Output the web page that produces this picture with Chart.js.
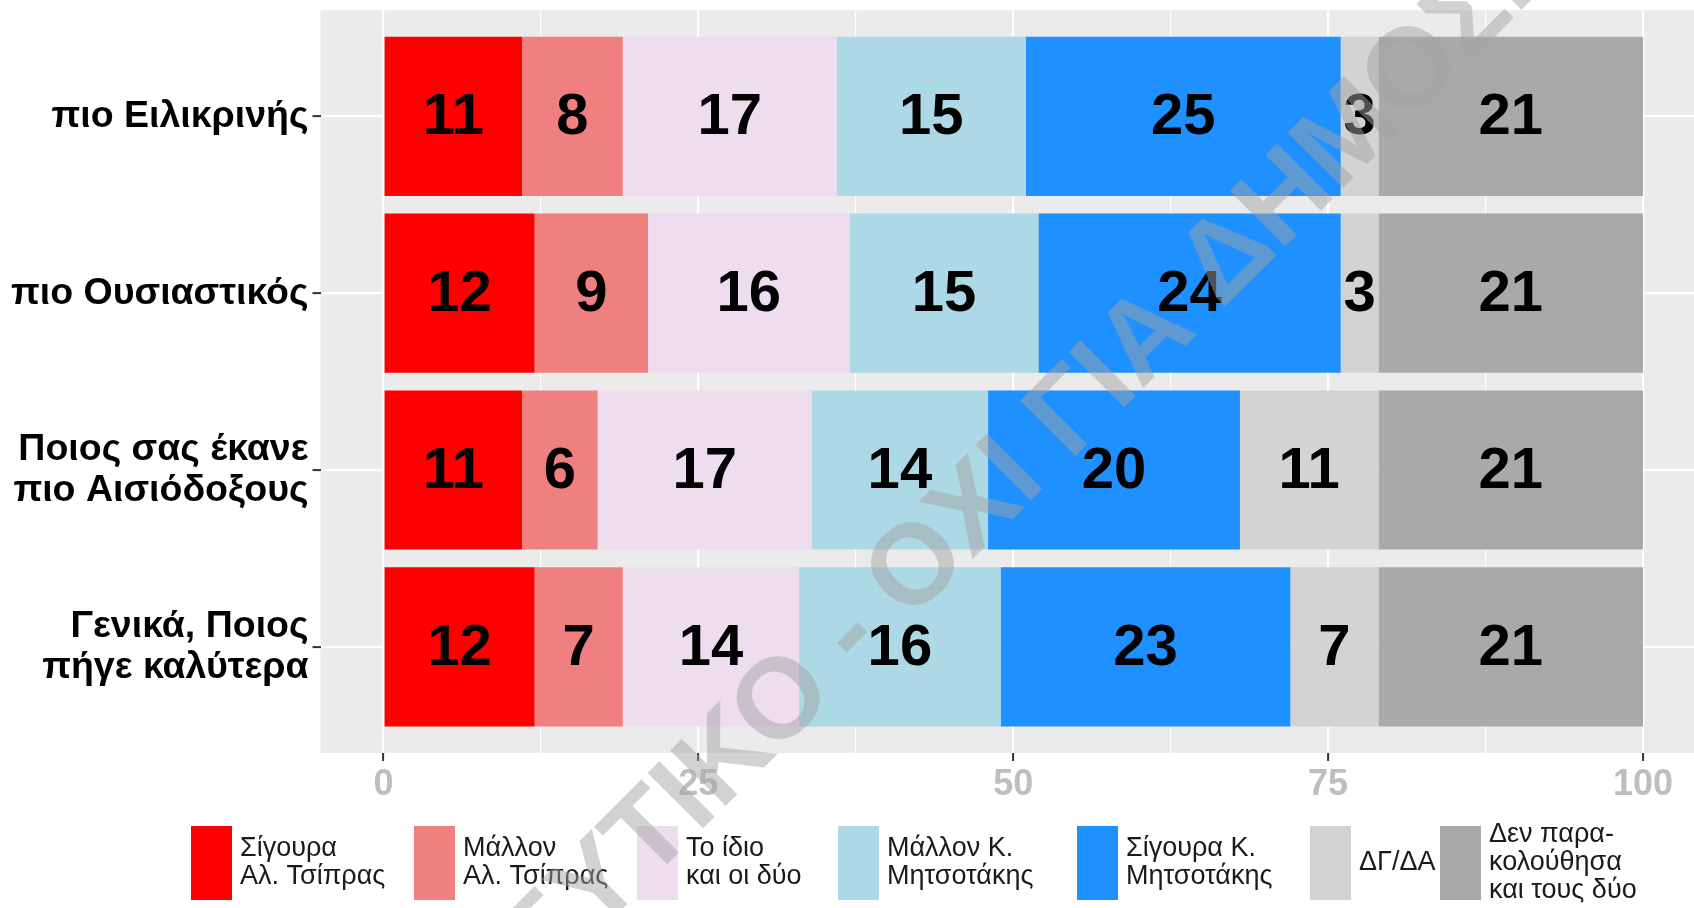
<!DOCTYPE html>
<html>
<head>
<meta charset="utf-8">
<script src="https://cdn.jsdelivr.net/npm/chart.js@4.4.1/dist/chart.umd.min.js"></script>
<style>
  html, body { margin: 0; padding: 0; background: #fff; overflow: hidden; }
  #wrap { width: 1694px; height: 908px; }
</style>
</head>
<body>
<div id="wrap"><canvas id="chart" width="1694" height="908"></canvas></div>
<script>
// questions, top to bottom
const questions = [
  ["πιο Ειλικρινής"],
  ["πιο Ουσιαστικός"],
  ["Ποιος σας έκανε", "πιο Αισιόδοξους"],
  ["Γενικά, Ποιος", "πήγε καλύτερα"]
];

// answer series (legend text, split in lines)
const seriesNames = [
  ["Σίγουρα", "Αλ. Τσίπρας"],
  ["Μάλλον", "Αλ. Τσίπρας"],
  ["Το ίδιο", "και οι δύο"],
  ["Μάλλον Κ.", "Μητσοτάκης"],
  ["Σίγουρα Κ.", "Μητσοτάκης"],
  ["ΔΓ/ΔΑ"],
  ["Δεν παρα-", "κολούθησα", "και τους δύο"]
];

const sigouraTsipras    = [11, 12, 11, 12];
const mallonTsipras     = [8, 9, 6, 7];
const toIdio            = [17, 16, 17, 14];
const mallonMitsotakis  = [15, 15, 14, 16];
const sigouraMitsotakis = [25, 24, 20, 23];
const dgda              = [3, 3, 11, 7];
const denParakolouthisa = [21, 21, 21, 21];

const xTicks = [0, 25, 50, 75, 100];

const seriesValues = [sigouraTsipras, mallonTsipras, toIdio, mallonMitsotakis,
                      sigouraMitsotakis, dgda, denParakolouthisa];
const seriesColors = ["#FF0000", "#F08080", "#EEDDEE", "#ADD8E6", "#1E90FF", "#D3D3D3", "#A9A9A9"];

// left edge of each legend key (layout only)
const legendKeyLeft = [191, 414, 637, 838, 1077, 1310, 1440];

const FONT = '"Liberation Sans", Arial, sans-serif';

// grey panel behind the bars (ggplot style)
const panelPlugin = {
  id: "panel",
  beforeDraw(chart) {
    const a = chart.chartArea;
    const ctx = chart.ctx;
    ctx.save();
    ctx.fillStyle = "#EBEBEB";
    ctx.fillRect(a.left, a.top, a.right - a.left, a.bottom - a.top);
    ctx.restore();
  }
};

// numbers in the middle of each segment
const barLabels = {
  id: "barLabels",
  afterDatasetsDraw(chart) {
    const ctx = chart.ctx;
    ctx.save();
    ctx.font = "bold 58px " + FONT;
    ctx.fillStyle = "#000";
    ctx.textAlign = "center";
    ctx.textBaseline = "middle";
    chart.data.datasets.forEach((ds, i) => {
      chart.getDatasetMeta(i).data.forEach((bar, j) => {
        ctx.fillText(ds.data[j].x, (bar.x + bar.base) / 2, bar.y + 2);
      });
    });
    ctx.restore();
  }
};

// legend at the bottom + watermark on top of everything
const legendPlugin = {
  id: "ggLegend",
  afterDraw(chart) {
    const ctx = chart.ctx;
    ctx.save();
    ctx.font = "27px " + FONT;
    ctx.textAlign = "left";
    ctx.textBaseline = "middle";
    const cy = 863, keyW = 41, keyH = 74, lh = 28;
    chart.data.datasets.forEach((ds, i) => {
      const x = legendKeyLeft[i];
      ctx.fillStyle = ds.backgroundColor;
      ctx.fillRect(x, cy - keyH / 2, keyW, keyH);
      const lines = seriesNames[i];
      ctx.fillStyle = "#1a1a1a";
      lines.forEach((ln, j) => {
        ctx.fillText(ln, x + keyW + 8, cy + (j - (lines.length - 1) / 2) * lh);
      });
    });

    // watermark
    ctx.translate(975, 512);
    ctx.rotate(-45 * Math.PI / 180);
    ctx.font = "bold 114px " + FONT;
    ctx.fillStyle = "rgba(163,163,163,0.49)";
    ctx.textAlign = "center";
    ctx.fillText("ΕΜΠΙΣΤΕΥΤΙΚΟ - ΟΧΙ ΓΙΑ ΔΗΜΟΣΙΕΥΣΗ", 0, 0);
    ctx.restore();
  }
};

const datasets = seriesValues.map((vals, i) => ({
  label: seriesNames[i].join(" "),
  data: vals.map((v, j) => ({ x: v, y: j + 1 })),
  backgroundColor: seriesColors[i],
  borderWidth: 0,
  barPercentage: 0.9,
  categoryPercentage: 1.0
}));

const minorStep = 12.5;

new Chart(document.getElementById("chart"), {
  type: "bar",
  data: { datasets: datasets },
  options: {
    indexAxis: "y",
    responsive: false,
    animation: false,
    events: [],
    layout: { padding: { top: 10.2, right: 0, bottom: 0, left: 0 } },
    plugins: {
      legend: { display: false },
      tooltip: { enabled: false },
      title: { display: false }
    },
    scales: {
      x: {
        type: "linear",
        stacked: true,
        min: -5,
        max: 104.05,
        afterBuildTicks(axis) {
          const t = [];
          for (let v = xTicks[0]; v <= xTicks[xTicks.length - 1]; v += minorStep) t.push({ value: v });
          axis.ticks = t;
        },
        afterFit(scale) {
          scale.height = 908 - 753;
          scale.paddingLeft = 0;
          scale.paddingRight = 0;
        },
        border: { display: false },
        grid: {
          color: "#FFFFFF",
          lineWidth: (c) => (xTicks.includes(c.tick.value) ? 2.2 : 1.2),
          tickColor: (c) => (xTicks.includes(c.tick.value) ? "#333333" : "rgba(0,0,0,0)"),
          tickLength: 8,
          tickWidth: 2
        },
        ticks: {
          autoSkip: false,
          maxRotation: 0,
          padding: 2,
          color: "#BEBEBE",
          font: { family: FONT, size: 36, weight: "bold" },
          callback: (v) => (xTicks.includes(v) ? v : "")
        }
      },
      y: {
        type: "linear",
        stacked: true,
        reverse: true,
        offset: false,
        min: 0.4,
        max: 4.6,
        afterBuildTicks(axis) {
          axis.ticks = questions.map((q, i) => ({ value: i + 1 }));
        },
        afterFit(scale) {
          scale.width = 320.5;
          scale.paddingTop = 0;
          scale.paddingBottom = 0;
        },
        border: { display: false },
        grid: {
          offset: false,
          color: "#FFFFFF",
          lineWidth: 2.2,
          tickColor: "#333333",
          tickLength: 8,
          tickWidth: 2
        },
        ticks: {
          autoSkip: false,
          padding: 4,
          color: "#000000",
          font: { family: FONT, size: 37.5, weight: "bold", lineHeight: 1.1 },
          callback: (v) => questions[v - 1]
        }
      }
    }
  },
  plugins: [panelPlugin, barLabels, legendPlugin]
});
</script>
</body>
</html>
